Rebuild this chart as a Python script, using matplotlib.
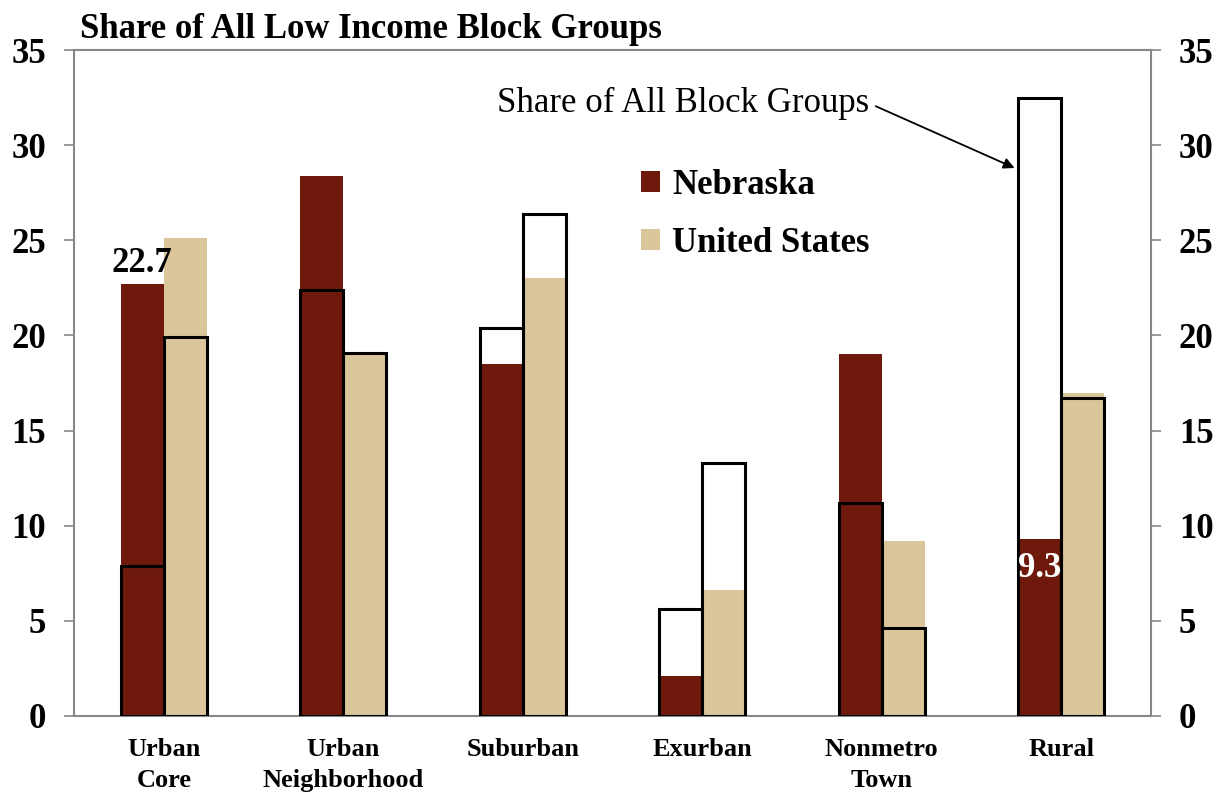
"""
Частка блок-груп з низьким доходом за типом території: Небраска проти США.
"""

import matplotlib.pyplot as plt
from matplotlib.patches import Patch

# Категорії території
categories = ['Urban\nCore', 'Urban\nNeighborhood', 'Suburban',
              'Exurban', 'Nonmetro\nTown', 'Rural']

# Частка всіх блок-груп з низьким доходом (заливка)
ne_low_income = [22.7, 28.4, 18.5, 2.1, 19.0, 9.3]
us_low_income = [25.1, 19.1, 23.0, 6.6, 9.2, 17.0]

# Частка всіх блок-груп (контур)
ne_all = [7.9, 22.4, 20.4, 5.6, 11.2, 32.5]
us_all = [19.9, 19.1, 26.4, 13.3, 4.6, 16.7]

y_ticks = [0, 5, 10, 15, 20, 25, 30, 35]

NE_COLOR = '#6e190b'
US_COLOR = '#dbc69b'
SERIF = ['Liberation Serif', 'DejaVu Serif']

plt.rcParams['font.family'] = SERIF

fig = plt.figure(figsize=(12.24, 7.94), dpi=100)
ax = fig.add_axes([74 / 1224, 1 - 716 / 794, 1077 / 1224, 666 / 794])

x = list(range(len(categories)))
width = 0.24

# Заповнені стовпчики
ax.bar([i - width / 2 for i in x], ne_low_income, width, color=NE_COLOR, zorder=2)
ax.bar([i + width / 2 for i in x], us_low_income, width, color=US_COLOR, zorder=2)

# Контурні стовпчики (частка всіх блок-груп)
ax.bar([i - width / 2 for i in x], ne_all, width, facecolor='none',
       edgecolor='black', linewidth=2.2, zorder=3)
ax.bar([i + width / 2 for i in x], us_all, width, facecolor='none',
       edgecolor='black', linewidth=2.2, zorder=3)

ax.set_xlim(-0.5, 5.5)
ax.set_ylim(0, 35)
ax.set_yticks(y_ticks)
ax.set_xticks(x)
ax.set_xticklabels(categories, fontsize=19, fontweight='bold', linespacing=1.45)
ax.tick_params(axis='x', length=0, pad=16)
ax.tick_params(axis='y', direction='out', length=7, width=1.2, color='#888888',
               labelsize=25, right=True, labelright=True, pad=13)
for t in ax.yaxis.get_major_ticks():
    t.label1.set_fontweight('bold')
    t.label2.set_fontweight('bold')
for spine in ax.spines.values():
    spine.set_color('#888888')
    spine.set_linewidth(1.5)

# Підписи значень
ax.text(0 - width / 2, ne_low_income[0] + 0.2, f'{ne_low_income[0]:.1f}',
        ha='center', va='bottom', fontsize=25, fontweight='bold')
ax.text(5 - width / 2, ne_low_income[5] - 0.7, f'{ne_low_income[5]:.1f}',
        ha='center', va='top', fontsize=25, fontweight='bold', color='white')

# Заголовок
fig.text(80 / 1224, 1 - 29 / 794, 'Share of All Low Income Block Groups',
         ha='left', va='center', fontsize=25, fontweight='bold')

# Анотація зі стрілкою
ax.annotate('Share of All Block Groups', xy=(4.74, 28.8), xytext=(3.93, 32.2),
            ha='right', va='center', fontsize=25,
            arrowprops=dict(arrowstyle='-|>', color='black', lw=1.3,
                            mutation_scale=16, shrinkA=3, shrinkB=0,
                            relpos=(1.0, 0.5)))

# Легенда
handles = [Patch(facecolor=NE_COLOR, label='Nebraska'),
           Patch(facecolor=US_COLOR, label='United States')]
ax.legend(handles=handles, loc='upper left', bbox_to_anchor=(0.4975, 0.868),
          frameon=False, prop={'size': 25, 'weight': 'bold'},
          handlelength=0.55, handleheight=0.55, handletextpad=0.35,
          labelspacing=0.72)

fig.savefig('out.png', dpi=100)
